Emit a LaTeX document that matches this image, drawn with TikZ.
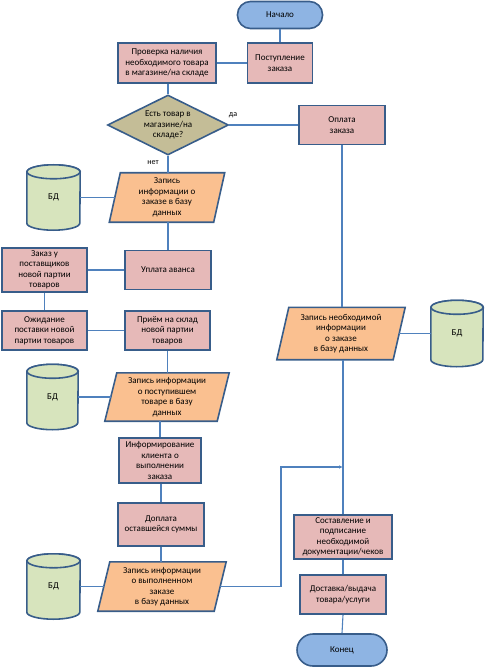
\documentclass[tikz,border=0pt]{standalone}
\usepackage{fontspec}
\setmainfont{Carlito}
\usetikzlibrary{shapes.geometric,arrows.meta,backgrounds,calc}
\definecolor{bord}{HTML}{385D8A}
\definecolor{conn}{HTML}{4F81BD}
\definecolor{pinkf}{HTML}{E6B9B8}
\definecolor{orangef}{HTML}{FAC090}
\definecolor{tanf}{HTML}{C4BD97}
\definecolor{greenf}{HTML}{D7E4BD}
\definecolor{bluef}{HTML}{8EB4E3}
\newcommand\ioshape[6]{%
  \node[iotext, minimum width=#3pt, minimum height=#4pt] (#1) at (#2) {#6};
  \begin{pgfonlayer}{background}
    \path[iobg] ([xshift=#5pt]#1.north west) -- ([xshift=#5pt]#1.north east)
      -- ([xshift=-#5pt]#1.south east) -- ([xshift=-#5pt]#1.south west) -- cycle;
  \end{pgfonlayer}}
\newcommand\dbshape[4]{%
  \node[dbtext, minimum width=#3pt, minimum height=#4pt] (#1) at (#2) {БД};
  \begin{pgfonlayer}{background}
    \path[dbbg] ([yshift=-7pt]#1.north west) -- ([yshift=7pt]#1.south west)
      arc[start angle=180, end angle=360, x radius=#3pt/2, y radius=7pt]
      -- ([yshift=-7pt]#1.north east)
      arc[start angle=0, end angle=180, x radius=#3pt/2, y radius=7pt] -- cycle;
    \path[dbbg] ([yshift=-7pt]#1.north) ellipse[x radius=#3pt/2, y radius=7pt];
  \end{pgfonlayer}}
\begin{document}
\begin{tikzpicture}[x=1pt,y=-1pt,
  every node/.style={font=\fontsize{9}{10.5}\selectfont, align=center, inner sep=0pt, text=black},
  procbox/.style={rectangle, draw=bord, line width=1.6pt, fill=pinkf},
  termbox/.style={rectangle, rounded corners=13pt, draw=bord, line width=1.6pt, fill=bluef},
  decbox/.style={diamond, aspect=2, draw=bord, line width=1.6pt, fill=tanf},
  iotext/.style={rectangle},
  iobg/.style={draw=bord, line width=1.6pt, fill=orangef, line join=miter},
  dbtext/.style={rectangle},
  dbbg/.style={draw=bord, line width=1.6pt, fill=greenf},
  link/.style={draw=conn, line width=1.1pt},
  lab/.style={font=\fontsize{8}{9}\selectfont}
]
\useasboundingbox (0,0) rectangle (486,668);

\node[termbox, minimum width=85pt, minimum height=27pt] (start) at (280,15) {Начало};
\node[procbox, minimum width=65pt, minimum height=40pt] (post) at (280,63) {Поступление\\заказа};
\node[procbox, minimum width=98pt, minimum height=40pt] (check) at (167,63) {Проверка наличия\\необходимого товара\\в магазине/на складе};
\node[decbox, minimum width=121pt, minimum height=60pt] (dec) at (168,125) {Есть товар в\\магазине/на\\складе?};
\node[procbox, minimum width=86pt, minimum height=39pt] (pay) at (342,125) {Оплата\\заказа};
\node[lab] (yes) at (233,115) {да};
\node[lab] (no) at (153,163) {нет};

\ioshape{p1}{167,197.5}{104}{49}{5.5}{Запись\\информации о\\заказе в базу\\данных}
\dbshape{db1}{53.5,197.5}{53}{65}
\node[procbox, minimum width=86pt, minimum height=39pt] (adv) at (168,270) {Уплата аванса};
\node[procbox, minimum width=85pt, minimum height=44pt] (ord) at (44.5,270) {Заказ у\\поставщиков\\новой партии\\товаров};
\node[procbox, minimum width=85pt, minimum height=39pt] (wait) at (44.5,330.5) {Ожидание\\поставки новой\\партии товаров};
\node[procbox, minimum width=85pt, minimum height=39pt] (recv) at (167.5,330.5) {Приём на склад\\новой партии\\товаров};
\ioshape{p2}{167,397}{112}{48}{6}{Запись информации\\о поступившем\\товаре в базу\\данных}
\dbshape{db2}{52.5,397}{51}{65}
\node[procbox, minimum width=82pt, minimum height=45pt] (inf) at (160,460.5) {Информирование\\клиента о\\выполнении\\заказа};
\node[procbox, minimum width=86pt, minimum height=43pt] (surch) at (161,524.5) {Доплата\\оставшейся суммы};
\ioshape{p3}{162,586.5}{116}{49}{6}{Запись информации\\о выполненном\\заказе\\в базу данных}
\dbshape{db3}{53.5,586.5}{53}{65}
\ioshape{p4}{341,333.5}{116}{52}{6}{Запись необходимой\\информации\\о заказе\\в базу данных}
\dbshape{db4}{457,333.5}{52}{66}
\node[procbox, minimum width=98pt, minimum height=44pt] (doc) at (343,537) {Составление и\\подписание\\необходимой\\документации/чеков};
\node[procbox, minimum width=86pt, minimum height=39pt] (del) at (343,594.5) {Доставка/выдача\\товара/услуги};
\node[termbox, rounded corners=16pt, minimum width=90pt, minimum height=32pt] (end) at (342,650) {Конец};

\draw[link] (start.south) -- (post.north);
\draw[link] (check.east) -- (post.west);
\draw[link] (dec.north) -- (dec.north |- check.south);
\draw[link] (dec.east) -- (pay.west);
\draw[link] (dec.south) -- (dec.south |- p1.north);
\draw[link] (db1.east) -- (p1.west);
\draw[link] (adv.north) -- (adv.north |- p1.south);
\draw[link] (adv.west) -- (ord.east);
\draw[link] (ord.south) -- (wait.north);
\draw[link] (wait.east) -- (recv.west);
\draw[link] (recv.south) -- (recv.south |- p2.north);
\draw[link] (db2.east) -- (p2.west);
\draw[link] (inf.north) -- (inf.north |- p2.south);
\draw[link] (surch.north) -- (surch.north |- inf.south);
\draw[link] (surch.south) -- (surch.south |- p3.north);
\draw[link] (db3.east) -- (p3.west);
\draw[link] (pay.south) -- (pay.south |- p4.north);
\draw[link] (p4.east) -- (db4.west);
\draw[link] (doc.north) -- (doc.north |- p4.south);
\draw[link] (doc.south) -- (del.north);
\draw[link] (del.south) -- (end.north);
\coordinate (bend) at (281,467);
\coordinate (j) at (doc.north |- bend);
\draw[link,-{Latex[length=4pt,width=3.5pt]}] (p3.east) -| (bend) -- (j);
\end{tikzpicture}
\end{document}
